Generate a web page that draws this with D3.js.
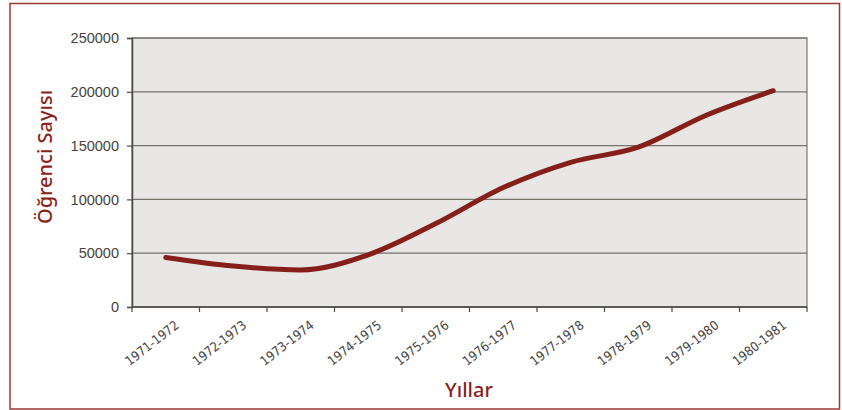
<!DOCTYPE html>
<html>
<head>
<meta charset="utf-8">
<script src="https://cdn.jsdelivr.net/npm/d3@7"></script>
<style>
  body { margin: 0; background: #fff; }
  svg { display: block; }
</style>
</head>
<body>
<svg id="chart"></svg>
<script>
// Data
const years = ["1971-1972", "1972-1973", "1973-1974", "1974-1975", "1975-1976",
               "1976-1977", "1977-1978", "1978-1979", "1979-1980", "1980-1981"];
const students = [46000, 38000, 34500, 48500, 77500, 111000, 134500, 148500, 178000, 201000];
const yTicks = [0, 50000, 100000, 150000, 200000, 250000];

const width = 842, height = 410;
const margin = { top: 38, right: 35, bottom: 103, left: 132 };

const svg = d3.select("#chart").attr("width", width).attr("height", height);

// outer frame
svg.append("rect")
    .attr("x", 10).attr("y", 3.5)
    .attr("width", 829.5).attr("height", 405.5)
    .attr("fill", "#fff")
    .attr("stroke", "#9b3a35")
    .attr("stroke-width", 1.5);

const x = d3.scaleBand()
    .domain(years)
    .range([margin.left, width - margin.right]);

const y = d3.scaleLinear()
    .domain([0, 250000])
    .range([height - margin.bottom, margin.top]);

// plot background
svg.append("rect")
    .attr("x", margin.left).attr("y", margin.top)
    .attr("width", x.range()[1] - margin.left)
    .attr("height", y(0) - margin.top)
    .attr("fill", "#e8e7e5")
    .attr("stroke", "#7a776f")
    .attr("stroke-width", 1.2);

// gridlines
svg.append("g")
    .selectAll("line")
    .data(yTicks)
    .join("line")
    .attr("x1", margin.left).attr("x2", x.range()[1])
    .attr("y1", d => y(d)).attr("y2", d => y(d))
    .attr("stroke", "#76736b")
    .attr("stroke-width", 1.2);

// y axis
const yAxis = svg.append("g")
    .attr("transform", `translate(${margin.left},0)`)
    .call(d3.axisLeft(y).tickValues(yTicks).tickFormat(d3.format("d")).tickSize(5).tickPadding(8));
yAxis.select(".domain").attr("stroke", "#4d4a45").attr("stroke-width", 1.5);
yAxis.selectAll(".tick line").attr("stroke", "#4d4a45").attr("stroke-width", 1.2);
yAxis.selectAll("text")
    .attr("fill", "#46433e")
    .style("font-family", "Liberation Sans, Arial, sans-serif")
    .style("font-size", "14.5px");

// x axis (ticks between categories)
const xAxis = svg.append("g")
    .attr("transform", `translate(0,${y(0)})`);
xAxis.append("line")
    .attr("x1", margin.left).attr("x2", x.range()[1])
    .attr("stroke", "#4d4a45").attr("stroke-width", 1.5);
xAxis.selectAll("line.tk")
    .data(years.concat(["end"]))
    .join("line")
    .attr("class", "tk")
    .attr("x1", (d, i) => margin.left + i * x.step())
    .attr("x2", (d, i) => margin.left + i * x.step())
    .attr("y1", 0).attr("y2", 5)
    .attr("stroke", "#4d4a45").attr("stroke-width", 1.2);
xAxis.selectAll("text")
    .data(years)
    .join("text")
    .attr("transform", d => `translate(${x(d) + x.bandwidth() / 2 + 14},20) rotate(-38)`)
    .attr("text-anchor", "end")
    .attr("fill", "#46433e")
    .style("font-family", "'DejaVu Sans Condensed', sans-serif")
    .style("font-size", "13px")
    .text(d => d);

// line
const line = d3.line()
    .x((d, i) => x(years[i]) + x.bandwidth() / 2)
    .y(d => y(d))
    .curve(d3.curveMonotoneX);

svg.append("path")
    .datum(students)
    .attr("fill", "none")
    .attr("stroke", "#861f19")
    .attr("stroke-width", 5)
    .attr("stroke-linecap", "round")
    .attr("stroke-linejoin", "round")
    .attr("d", line);

// axis titles
svg.append("text")
    .attr("x", 469).attr("y", 397)
    .attr("text-anchor", "middle")
    .attr("fill", "#8b1f1a")
    .style("font-family", "Noto Sans, Open Sans, sans-serif")
    .style("font-size", "20px")
    .style("font-weight", "500")
    .text("Yıllar");

svg.append("text")
    .attr("transform", "translate(52,157) rotate(-90)")
    .attr("text-anchor", "middle")
    .attr("fill", "#8b1f1a")
    .style("font-family", "Noto Sans, Open Sans, sans-serif")
    .style("font-size", "20px")
    .style("font-weight", "500")
    .text("Öğrenci Sayısı");
</script>
</body>
</html>
